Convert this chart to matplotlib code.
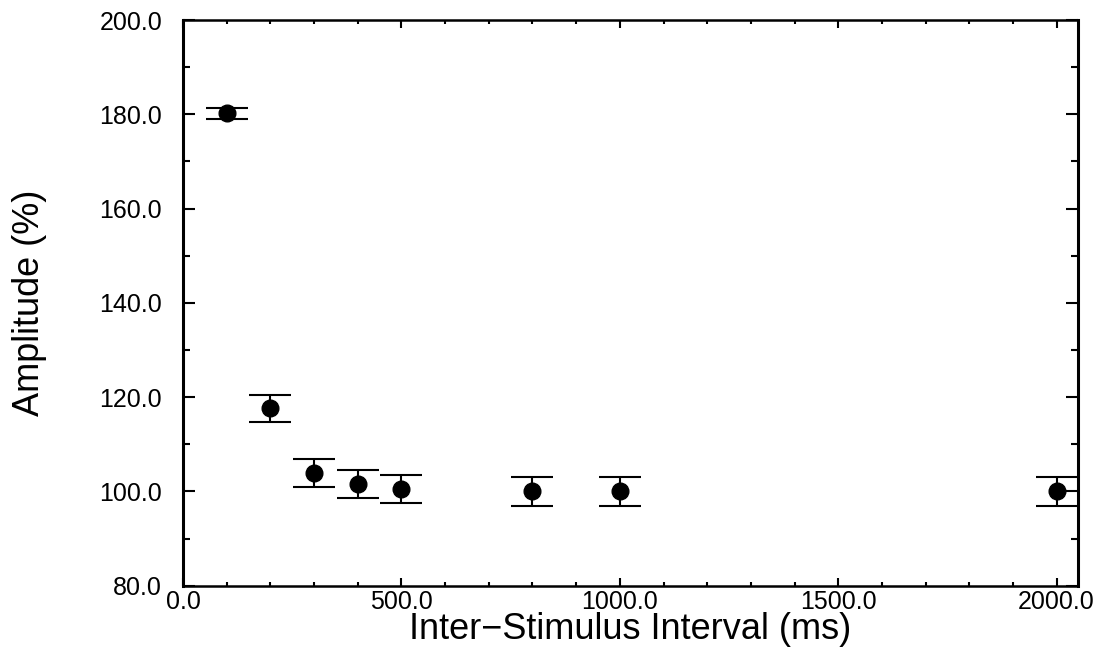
import numpy as np
import matplotlib
matplotlib.use('Agg')
from matplotlib import pyplot as plt
from matplotlib.ticker import MultipleLocator, FormatStrFormatter

# inter-stimulus interval (ms), amplitude (%) and error
isi = [100, 200, 300, 400, 500, 800, 1000, 2000]
amp = [180.2, 117.6, 103.9, 101.6, 100.5, 100.0, 100.0, 100.0]
err = [1.15, 2.95, 3.05, 3.0, 3.0, 3.1, 3.1, 3.1]

xlabel = 'Inter\u2212Stimulus Interval (ms)'
ylabel = 'Amplitude (%)'

plt.rcParams['font.family'] = ['Liberation Sans', 'DejaVu Sans']

fig = plt.figure(figsize=(11.06, 6.52), dpi=100)
ax = fig.add_axes([0.1655, 0.1017, 0.8092, 0.8676])

ax.errorbar(isi, amp, yerr=err, fmt='o', color='black', markersize=12,
            elinewidth=1.5, capsize=15, capthick=1.5)

ax.set_xlim(0, 2049)
ax.set_ylim(80, 200)
ax.xaxis.set_major_locator(MultipleLocator(500))
ax.xaxis.set_minor_locator(MultipleLocator(100))
ax.yaxis.set_major_locator(MultipleLocator(20))
ax.yaxis.set_minor_locator(MultipleLocator(10))
ax.xaxis.set_major_formatter(FormatStrFormatter('%.1f'))
ax.yaxis.set_major_formatter(FormatStrFormatter('%.1f'))

ax.tick_params(which='both', direction='in', top=True, right=True,
               width=1.5, labelsize=18)
ax.tick_params(axis='x', which='major', length=6, pad=3)
ax.tick_params(axis='x', which='minor', length=3)
ax.tick_params(axis='y', which='major', length=8.5, pad=15)
ax.tick_params(axis='y', which='minor', length=5)
for side in ['left', 'right']:
    ax.spines[side].set_linewidth(2.2)
for side in ['top', 'bottom']:
    ax.spines[side].set_linewidth(1.8)

ax.set_xlabel(xlabel, fontsize=26)
ax.set_ylabel(ylabel, fontsize=26)
ax.xaxis.set_label_coords(0.5, -0.047)
ax.yaxis.set_label_coords(-0.152, 0.5)

fig.savefig('out.png', dpi=100)
